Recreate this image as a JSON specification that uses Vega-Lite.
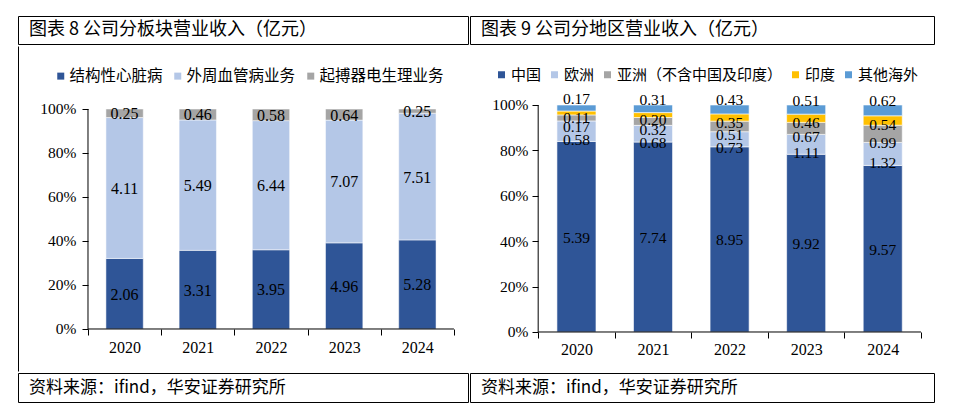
{
  "$schema": "https://vega.github.io/schema/vega-lite/v6.json",
  "padding": {"left": 17, "top": 15, "right": 0, "bottom": 0},
  "background": "white",
  "columns": 2,
  "spacing": 0,
  "resolve": {"scale": {"color": "independent", "x": "independent", "y": "independent"}, "legend": {"color": "independent"}, "axis": {"x": "independent", "y": "independent"}},
  "config": {
    "font": "Liberation Serif",
    "view": {"stroke": null},
    "axis": {"labelFont": "Liberation Serif", "labelColor": "#000", "tickColor": "#000", "domainColor": "#000", "grid": false, "title": null},
    "legend": {"labelFont": "Noto Sans CJK SC"}
  },
  "datasets": {
    "d8": [
      {"year": "2020", "seg": "结构性心脏病", "value": 2.06},
      {"year": "2020", "seg": "外周血管病业务", "value": 4.11},
      {"year": "2020", "seg": "起搏器电生理业务", "value": 0.25},
      {"year": "2021", "seg": "结构性心脏病", "value": 3.31},
      {"year": "2021", "seg": "外周血管病业务", "value": 5.49},
      {"year": "2021", "seg": "起搏器电生理业务", "value": 0.46},
      {"year": "2022", "seg": "结构性心脏病", "value": 3.95},
      {"year": "2022", "seg": "外周血管病业务", "value": 6.44},
      {"year": "2022", "seg": "起搏器电生理业务", "value": 0.58},
      {"year": "2023", "seg": "结构性心脏病", "value": 4.96},
      {"year": "2023", "seg": "外周血管病业务", "value": 7.07},
      {"year": "2023", "seg": "起搏器电生理业务", "value": 0.64},
      {"year": "2024", "seg": "结构性心脏病", "value": 5.28},
      {"year": "2024", "seg": "外周血管病业务", "value": 7.51},
      {"year": "2024", "seg": "起搏器电生理业务", "value": 0.25}
    ],
    "d9": [
      {"year": "2020", "seg": "中国", "value": 5.39},
      {"year": "2020", "seg": "欧洲", "value": 0.58},
      {"year": "2020", "seg": "亚洲（不含中国及印度）", "value": 0.17},
      {"year": "2020", "seg": "印度", "value": 0.11},
      {"year": "2020", "seg": "其他海外", "value": 0.17},
      {"year": "2021", "seg": "中国", "value": 7.74},
      {"year": "2021", "seg": "欧洲", "value": 0.68},
      {"year": "2021", "seg": "亚洲（不含中国及印度）", "value": 0.32},
      {"year": "2021", "seg": "印度", "value": 0.20},
      {"year": "2021", "seg": "其他海外", "value": 0.31},
      {"year": "2022", "seg": "中国", "value": 8.95},
      {"year": "2022", "seg": "欧洲", "value": 0.73},
      {"year": "2022", "seg": "亚洲（不含中国及印度）", "value": 0.51},
      {"year": "2022", "seg": "印度", "value": 0.35},
      {"year": "2022", "seg": "其他海外", "value": 0.43},
      {"year": "2023", "seg": "中国", "value": 9.92},
      {"year": "2023", "seg": "欧洲", "value": 1.11},
      {"year": "2023", "seg": "亚洲（不含中国及印度）", "value": 0.67},
      {"year": "2023", "seg": "印度", "value": 0.46},
      {"year": "2023", "seg": "其他海外", "value": 0.51},
      {"year": "2024", "seg": "中国", "value": 9.57},
      {"year": "2024", "seg": "欧洲", "value": 1.32},
      {"year": "2024", "seg": "亚洲（不含中国及印度）", "value": 0.99},
      {"year": "2024", "seg": "印度", "value": 0.54},
      {"year": "2024", "seg": "其他海外", "value": 0.62}
    ]
  },
  "concat": [
    {
      "width": 450, "height": 28,
      "view": {"stroke": "#000", "strokeWidth": 1},
      "data": {"values": [{"t": "图表 8 公司分板块营业收入（亿元）"}]},
      "mark": {"type": "text", "align": "left", "baseline": "middle", "font": "Noto Sans CJK SC", "fontSize": 18, "dx": 11, "color": "#000"},
      "encoding": {
        "x": {"datum": 0, "type": "quantitative", "scale": {"domain": [0, 1]}, "axis": null},
        "text": {"field": "t"}
      }
    },
    {
      "width": 464, "height": 28,
      "view": {"stroke": "#000", "strokeWidth": 1},
      "data": {"values": [{"t": "图表 9 公司分地区营业收入（亿元）"}]},
      "mark": {"type": "text", "align": "left", "baseline": "middle", "font": "Noto Sans CJK SC", "fontSize": 18, "dx": 11, "color": "#000"},
      "encoding": {
        "x": {"datum": 0, "type": "quantitative", "scale": {"domain": [0, 1]}, "axis": null},
        "text": {"field": "t"}
      }
    },
    {
      "width": 450, "height": 325,
      "view": {"stroke": "#000", "strokeWidth": 1, "strokeDash": [0, 1225, 325, 0]},
      "data": {"name": "d8"},
      "transform": [
        {"calculate": "indexof(['结构性心脏病','外周血管病业务','起搏器电生理业务'], datum.seg)", "as": "k"},
        {"stack": "value", "groupby": ["year"], "sort": [{"field": "k", "order": "ascending"}], "offset": "normalize", "as": ["v0", "v1"]},
        {"calculate": "(datum.v0 + datum.v1) / 2", "as": "mid"}
      ],
      "encoding": {
        "x": {
          "field": "year", "type": "nominal",
          "scale": {"paddingInner": 0, "paddingOuter": 0.574, "align": 0.833},
          "axis": {"tickBand": "extent", "domain": false, "offset": -42, "tickSize": 6, "labelFont": "Liberation Serif", "labelFontSize": 16, "labelPadding": 4, "labelAngle": 0}
        }
      },
      "layer": [
        {
          "mark": {"type": "bar", "width": {"band": 0.51}, "stroke": "white", "strokeWidth": 0.5},
          "encoding": {
            "y": {
              "field": "v0", "type": "quantitative",
              "scale": {"domain": [-0.19091, 1.28636], "nice": false, "zero": false},
              "axis": {"values": [0, 0.2, 0.4, 0.6, 0.8, 1], "format": ".0%", "offset": -70, "domain": false, "tickSize": 6, "labelPadding": 6, "labelFont": "Liberation Serif", "labelFontSize": 15.5}
            },
            "y2": {"field": "v1"},
            "color": {
              "field": "seg", "type": "nominal",
              "scale": {"domain": ["结构性心脏病", "外周血管病业务", "起搏器电生理业务"], "range": ["#2F5597", "#B4C7E7", "#A5A5A5"]},
              "legend": {"orient": "none", "legendX": 35, "legendY": 22, "direction": "horizontal", "title": null, "symbolType": "square", "symbolSize": 49, "symbolStrokeWidth": 0, "labelFont": "Noto Sans CJK SC", "labelFontSize": 15.5, "labelColor": "#000", "labelOffset": 1, "columnPadding": 7, "padding": 0, "labelLimit": 400}
            }
          }
        },
        {
          "mark": {"type": "text", "font": "Liberation Serif", "fontSize": 16, "color": "#000", "dy": 1},
          "encoding": {
            "y": {"field": "mid", "type": "quantitative"},
            "text": {"field": "value", "type": "quantitative", "format": ".2f"}
          }
        },
        {
          "data": {"values": [{}]},
          "mark": {"type": "rule", "color": "#000", "strokeWidth": 1},
          "encoding": {
            "x": {"datum": "2020", "bandPosition": 0},
            "y": {"datum": 0, "type": "quantitative"},
            "y2": {"datum": 1}
          }
        },
        {
          "data": {"values": [{}]},
          "mark": {"type": "rule", "color": "#000", "strokeWidth": 1},
          "encoding": {
            "x": {"datum": "2020", "bandPosition": 0},
            "x2": {"datum": "2024", "bandPosition": 1},
            "y": {"datum": 0, "type": "quantitative"}
          }
        }
      ]
    },
    {
      "width": 464, "height": 325,
      "data": {"name": "d9"},
      "transform": [
        {"calculate": "indexof(['中国','欧洲','亚洲（不含中国及印度）','印度','其他海外'], datum.seg)", "as": "k"},
        {"stack": "value", "groupby": ["year"], "sort": [{"field": "k", "order": "ascending"}], "offset": "normalize", "as": ["v0", "v1"]},
        {"calculate": "(datum.v0 + datum.v1) / 2", "as": "mid"}
      ],
      "encoding": {
        "x": {
          "field": "year", "type": "nominal",
          "scale": {"paddingInner": 0, "paddingOuter": 0.53, "align": 0.84},
          "axis": {"tickBand": "extent", "domain": false, "offset": -39, "tickSize": 6, "labelFont": "Liberation Serif", "labelFontSize": 16, "labelPadding": 3, "labelAngle": 0}
        }
      },
      "layer": [
        {
          "mark": {"type": "bar", "width": {"band": 0.51}, "stroke": "white", "strokeWidth": 0.6},
          "encoding": {
            "y": {
              "field": "v0", "type": "quantitative",
              "scale": {"domain": [-0.17181, 1.25991], "nice": false, "zero": false},
              "axis": {"values": [0, 0.2, 0.4, 0.6, 0.8, 1], "format": ".0%", "offset": -68, "domain": false, "tickSize": 6, "labelPadding": 4, "labelFont": "Liberation Serif", "labelFontSize": 15.5}
            },
            "y2": {"field": "v1"},
            "color": {
              "field": "seg", "type": "nominal",
              "scale": {"domain": ["中国", "欧洲", "亚洲（不含中国及印度）", "印度", "其他海外"], "range": ["#2F5597", "#B4C7E7", "#A5A5A5", "#FFC000", "#5B9BD5"]},
              "legend": {"orient": "none", "legendX": 24, "legendY": 21, "direction": "horizontal", "title": null, "symbolType": "square", "symbolSize": 49, "symbolStrokeWidth": 0, "labelFont": "Noto Sans CJK SC", "labelFontSize": 15, "labelColor": "#000", "labelOffset": 2, "columnPadding": 5, "padding": 0, "labelLimit": 400}
            }
          }
        },
        {
          "transform": [{"filter": "datum.seg === '中国'"}],
          "mark": {"type": "text", "font": "Liberation Serif", "fontSize": 15.5, "color": "#000", "dy": 1},
          "encoding": {"y": {"field": "mid", "type": "quantitative"}, "text": {"field": "value", "type": "quantitative", "format": ".2f"}}
        },
        {
          "transform": [{"filter": "datum.seg === '欧洲'"}],
          "mark": {"type": "text", "font": "Liberation Serif", "fontSize": 15.5, "color": "#000", "dy": 9},
          "encoding": {"y": {"field": "mid", "type": "quantitative"}, "text": {"field": "value", "type": "quantitative", "format": ".2f"}}
        },
        {
          "transform": [{"filter": "datum.seg === '亚洲（不含中国及印度）'"}],
          "mark": {"type": "text", "font": "Liberation Serif", "fontSize": 15.5, "color": "#000", "dy": 9},
          "encoding": {"y": {"field": "mid", "type": "quantitative"}, "text": {"field": "value", "type": "quantitative", "format": ".2f"}}
        },
        {
          "transform": [{"filter": "datum.seg === '印度'"}],
          "mark": {"type": "text", "font": "Liberation Serif", "fontSize": 15.5, "color": "#000", "dy": 5},
          "encoding": {"y": {"field": "mid", "type": "quantitative"}, "text": {"field": "value", "type": "quantitative", "format": ".2f"}}
        },
        {
          "transform": [{"filter": "datum.seg === '其他海外'"}],
          "mark": {"type": "text", "font": "Liberation Serif", "fontSize": 15.5, "color": "#000", "dy": -9},
          "encoding": {"y": {"field": "mid", "type": "quantitative"}, "text": {"field": "value", "type": "quantitative", "format": ".2f"}}
        },
        {
          "data": {"values": [{}]},
          "mark": {"type": "rule", "color": "#000", "strokeWidth": 1},
          "encoding": {
            "x": {"datum": "2020", "bandPosition": 0},
            "y": {"datum": 0, "type": "quantitative"},
            "y2": {"datum": 1}
          }
        },
        {
          "data": {"values": [{}]},
          "mark": {"type": "rule", "color": "#000", "strokeWidth": 1},
          "encoding": {
            "x": {"datum": "2020", "bandPosition": 0},
            "x2": {"datum": "2024", "bandPosition": 1},
            "y": {"datum": 0, "type": "quantitative"}
          }
        }
      ]
    },
    {
      "width": 450, "height": 29,
      "view": {"stroke": "#000", "strokeWidth": 1},
      "data": {"values": [{"t": "资料来源：ifind，华安证券研究所"}]},
      "mark": {"type": "text", "align": "left", "baseline": "middle", "font": "Noto Sans CJK SC", "fontSize": 17, "dx": 11, "color": "#000"},
      "encoding": {
        "x": {"datum": 0, "type": "quantitative", "scale": {"domain": [0, 1]}, "axis": null},
        "text": {"field": "t"}
      }
    },
    {
      "width": 464, "height": 29,
      "view": {"stroke": "#000", "strokeWidth": 1},
      "data": {"values": [{"t": "资料来源：ifind，华安证券研究所"}]},
      "mark": {"type": "text", "align": "left", "baseline": "middle", "font": "Noto Sans CJK SC", "fontSize": 17, "dx": 11, "color": "#000"},
      "encoding": {
        "x": {"datum": 0, "type": "quantitative", "scale": {"domain": [0, 1]}, "axis": null},
        "text": {"field": "t"}
      }
    }
  ]
}
